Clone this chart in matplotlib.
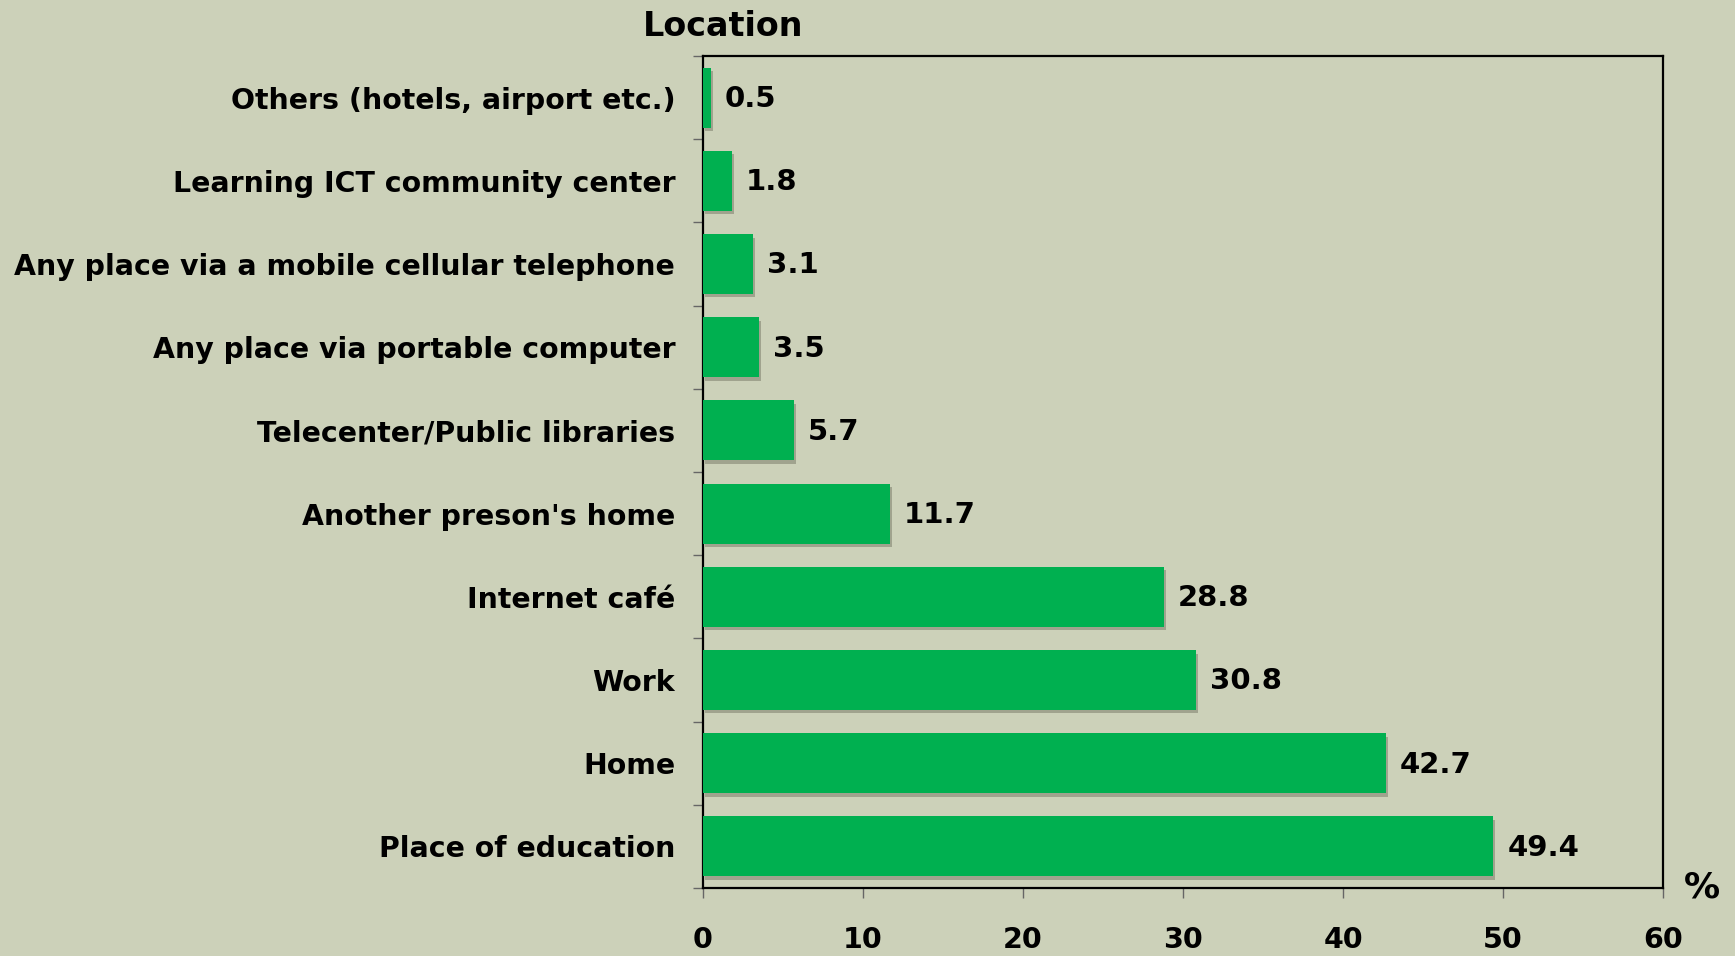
import matplotlib
matplotlib.use("Agg")
import matplotlib.pyplot as plt
import matplotlib.patheffects as pe

# Data (bottom to top)
locations = ["Place of education", "Home", "Work", "Internet café",
             "Another preson's home", "Telecenter/Public libraries",
             "Any place via portable computer",
             "Any place via a mobile cellular telephone",
             "Learning ICT community center", "Others (hotels, airport etc.)"]
shares = [49.4, 42.7, 30.8, 28.8, 11.7, 5.7, 3.5, 3.1, 1.8, 0.5]
xticks = [0, 10, 20, 30, 40, 50, 60]

BG = "#CCD1B9"
GREEN = "#00B050"

plt.rcParams['font.family'] = ['DejaVu Sans']
plt.rcParams['font.weight'] = 'bold'

fig = plt.figure(figsize=(17.35, 9.56), dpi=100, facecolor=BG)
ax = fig.add_axes([0.4052, 0.0711, 0.9585 - 0.4052, 0.9414 - 0.0711])
ax.set_facecolor(BG)

ypos = list(range(len(locations)))
bars = ax.barh(ypos, shares, height=0.72, color=GREEN, zorder=3)
for b in bars:
    b.set_path_effects([pe.SimplePatchShadow(offset=(1.5, -2.5), shadow_rgbFace='#6b6b5a', alpha=0.45),
                        pe.Normal()])

for y, v in zip(ypos, shares):
    ax.annotate(f"{v}", (v, y), xytext=(10, -1), textcoords="offset points",
                va="center", ha="left", fontsize=21, fontweight="bold")

ax.set_xlim(0, 60)
ax.set_ylim(-0.5, len(locations) - 0.5)
ax.set_xticks(xticks)
ax.set_xticklabels([str(t) for t in xticks], fontsize=20.5, fontweight="bold")
ax.set_yticks(ypos)
ax.set_yticklabels(locations, fontsize=20.4, fontweight="bold")
ax.set_yticks([i - 0.5 for i in range(len(locations) + 1)], minor=True)

ax.tick_params(axis='y', which='major', length=0, pad=20)
ax.tick_params(axis='y', which='minor', length=7, width=1, color='#666666')
ax.tick_params(axis='x', which='major', length=7, width=1, color='#666666', pad=20)

for s in ax.spines.values():
    s.set_color('black')
    s.set_linewidth(1.6)

fig.text(723 / 1735, 1 - 26 / 956, "Location", ha="center", va="center",
         fontsize=24, fontweight="bold")
fig.text(1702 / 1735, 1 - 887 / 956, "%", ha="center", va="center",
         fontsize=26, fontweight="bold")

fig.savefig("out.png", dpi=100, facecolor=BG)
